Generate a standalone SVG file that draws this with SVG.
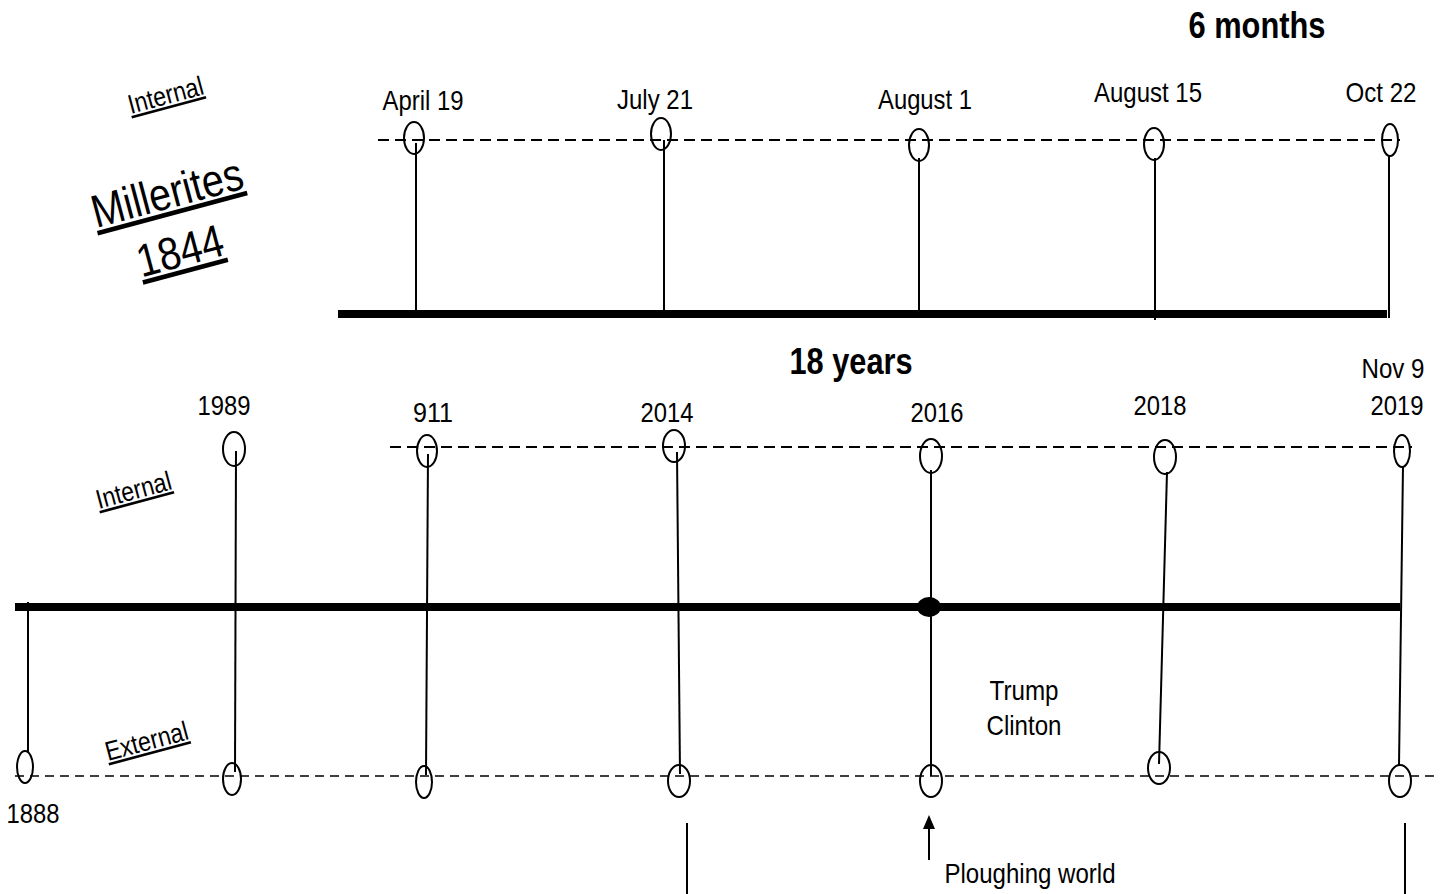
<svg xmlns="http://www.w3.org/2000/svg" width="1445" height="894" viewBox="0 0 1445 894">
<style>
text{font-family:"Liberation Sans",Arial,sans-serif;fill:#000}
.lb{font-size:28px;text-anchor:middle}
.ttl{font-size:36px;font-weight:bold;text-anchor:middle}
.rot{font-size:27px;text-anchor:middle;text-decoration:underline}
.big{font-size:46px;text-anchor:middle;text-decoration:underline}
.node{fill:none;stroke:#000;stroke-width:2}
.stem{stroke:#000;stroke-width:2;fill:none}
.dash{stroke:#000;stroke-width:2;stroke-dasharray:11 6;fill:none}
.dash2{stroke:#000;stroke-width:1.6;stroke-dasharray:9 6;fill:none}
.bar{stroke:#000;stroke-width:8;fill:none}
</style>
<rect width="1445" height="894" fill="#fff"/>

<g id="titles">
<text class="ttl" x="1257" y="38" textLength="137" lengthAdjust="spacingAndGlyphs">6 months</text>
<text class="ttl" x="851" y="374" textLength="123" lengthAdjust="spacingAndGlyphs">18 years</text>
<text class="rot" transform="rotate(-15 168 104)" x="168" y="104" textLength="77" lengthAdjust="spacingAndGlyphs">Internal</text>
<text class="big" transform="rotate(-15 171 208)" x="171" y="208" textLength="155" lengthAdjust="spacingAndGlyphs">Millerites</text>
<text class="big" transform="rotate(-15 184 266)" x="184" y="266" textLength="88" lengthAdjust="spacingAndGlyphs">1844</text>
<text class="rot" transform="rotate(-15 136 499)" x="136" y="499" textLength="77" lengthAdjust="spacingAndGlyphs">Internal</text>
<text class="rot" transform="rotate(-15 149 750)" x="149" y="750" textLength="85" lengthAdjust="spacingAndGlyphs">External</text>
</g>

<g id="connectors">
<line class="dash" x1="378" y1="140" x2="1400" y2="140"/>
<line class="bar" x1="338" y1="314" x2="1387" y2="314"/>
<line class="dash" x1="390" y1="447" x2="1412" y2="447"/>
<line class="bar" x1="15" y1="607" x2="1400" y2="607"/>
<line class="dash2" x1="15" y1="776" x2="1440" y2="776"/>
<line class="stem" x1="416" y1="143" x2="416" y2="314"/>
<line class="stem" x1="664" y1="140" x2="664" y2="314"/>
<line class="stem" x1="919" y1="158" x2="919" y2="318"/>
<line class="stem" x1="1155" y1="158" x2="1155" y2="320"/>
<line class="stem" x1="1389" y1="156" x2="1389" y2="318"/>
<line class="stem" x1="28" y1="602" x2="28" y2="752"/>
<line class="stem" x1="236" y1="451" x2="235" y2="772"/>
<line class="stem" x1="428" y1="454" x2="426" y2="775"/>
<line class="stem" x1="677" y1="452" x2="680" y2="774"/>
<line class="stem" x1="931" y1="470" x2="931" y2="776"/>
<line class="stem" x1="1167" y1="472" x2="1159" y2="764"/>
<line class="stem" x1="1403" y1="466" x2="1399" y2="766"/>
<line class="stem" x1="687" y1="823" x2="687" y2="894"/>
<line class="stem" x1="1405" y1="823" x2="1405" y2="894"/>
<g id="arrow-ploughing">
<line class="stem" x1="929" y1="860" x2="929" y2="826"/>
<polygon points="923,829 929,815 935,829" fill="#000"/>
</g>
</g>

<g id="n-april19"><ellipse class="node" cx="414" cy="138" rx="10" ry="16"/><text class="lb" x="423" y="110" textLength="81" lengthAdjust="spacingAndGlyphs">April 19</text></g>
<g id="n-july21"><ellipse class="node" cx="661" cy="134" rx="10" ry="16"/><text class="lb" x="655" y="109" textLength="76" lengthAdjust="spacingAndGlyphs">July 21</text></g>
<g id="n-august1"><ellipse class="node" cx="919" cy="145" rx="10" ry="16"/><text class="lb" x="925" y="109" textLength="94" lengthAdjust="spacingAndGlyphs">August 1</text></g>
<g id="n-august15"><ellipse class="node" cx="1154" cy="144" rx="10" ry="16"/><text class="lb" x="1148" y="102" textLength="108" lengthAdjust="spacingAndGlyphs">August 15</text></g>
<g id="n-oct22"><ellipse class="node" cx="1390" cy="140" rx="8" ry="16"/><text class="lb" x="1381" y="102" textLength="71" lengthAdjust="spacingAndGlyphs">Oct 22</text></g>

<g id="n-1888"><ellipse class="node" cx="25" cy="767" rx="8" ry="16"/><text class="lb" x="33" y="823" textLength="53" lengthAdjust="spacingAndGlyphs">1888</text></g>
<g id="n-1989"><ellipse class="node" cx="234" cy="449" rx="11" ry="17"/><ellipse class="node" cx="232" cy="779" rx="9" ry="16"/><text class="lb" x="224" y="415" textLength="53" lengthAdjust="spacingAndGlyphs">1989</text></g>
<g id="n-911"><ellipse class="node" cx="427" cy="451" rx="10" ry="16"/><ellipse class="node" cx="424" cy="782" rx="8" ry="16"/><text class="lb" x="433" y="422" textLength="40" lengthAdjust="spacingAndGlyphs">911</text></g>
<g id="n-2014"><ellipse class="node" cx="674" cy="446" rx="11" ry="16"/><ellipse class="node" cx="679" cy="781" rx="11" ry="16"/><text class="lb" x="667" y="422" textLength="53" lengthAdjust="spacingAndGlyphs">2014</text></g>
<g id="n-2016"><ellipse class="node" cx="931" cy="456" rx="11" ry="17"/><ellipse class="node" cx="931" cy="781" rx="11" ry="16"/><ellipse cx="929" cy="607" rx="12" ry="10" fill="#000"/><text class="lb" x="937" y="422" textLength="53" lengthAdjust="spacingAndGlyphs">2016</text></g>
<g id="n-2018"><ellipse class="node" cx="1165" cy="457" rx="11" ry="17"/><ellipse class="node" cx="1159" cy="768" rx="11" ry="16"/><text class="lb" x="1160" y="415" textLength="53" lengthAdjust="spacingAndGlyphs">2018</text></g>
<g id="n-2019"><ellipse class="node" cx="1402" cy="451" rx="8" ry="16"/><ellipse class="node" cx="1400" cy="781" rx="11" ry="16"/><text class="lb" x="1393" y="378" textLength="63" lengthAdjust="spacingAndGlyphs">Nov 9</text><text class="lb" x="1397" y="415" textLength="53" lengthAdjust="spacingAndGlyphs">2019</text></g>

<g id="n-election"><text class="lb" x="1024" y="700" textLength="69" lengthAdjust="spacingAndGlyphs">Trump</text><text class="lb" x="1024" y="735" textLength="75" lengthAdjust="spacingAndGlyphs">Clinton</text></g>
<g id="n-ploughing"><text class="lb" x="1030" y="883" textLength="171" lengthAdjust="spacingAndGlyphs">Ploughing world</text></g>
</svg>
